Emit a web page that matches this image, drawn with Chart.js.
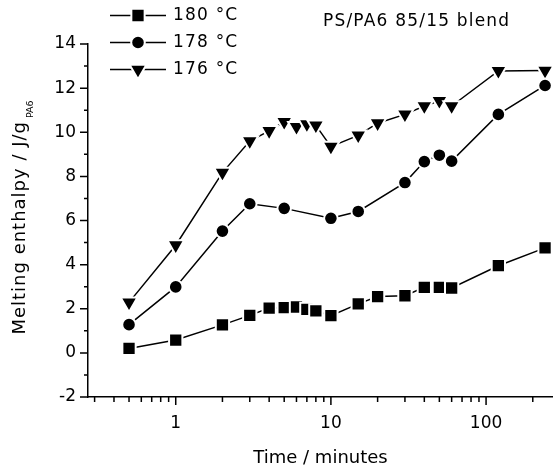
<!DOCTYPE html>
<html>
<head>
<meta charset="utf-8">
<script src="https://cdn.jsdelivr.net/npm/chart.js@4.4.0/dist/chart.umd.min.js"></script>
<style>
    html, body { margin: 0; padding: 0; background: #fff; }
    #wrap { width: 553px; height: 468px; }
</style>
</head>
<body>
<div id="wrap"><canvas id="chart" width="553" height="468"></canvas></div>
<script>
// data (time in minutes, enthalpy in J/g PA6)
const times180 = [0.5, 1, 2, 3, 4, 5, 6, 7, 8, 10, 15, 20, 30, 40, 50, 60, 120, 240];
const enthalpy180 = [0.2, 0.58, 1.27, 1.7, 2.03, 2.05, 2.08, 1.97, 1.9, 1.69, 2.22, 2.55, 2.59, 2.97, 2.97, 2.94, 3.95, 4.76];

const times178 = [0.5, 1, 2, 3, 5, 10, 15, 30, 40, 50, 60, 120, 240];
const enthalpy178 = [1.28, 2.99, 5.52, 6.76, 6.55, 6.1, 6.41, 7.72, 8.67, 8.96, 8.69, 10.81, 12.12];

const times176 = [0.5, 1, 2, 3, 4, 5, 6, 7, 8, 10, 15, 20, 30, 40, 50, 60, 120, 240];
const enthalpy176 = [2.29, 4.88, 8.17, 9.6, 10.06, 10.47, 10.25, 10.37, 10.31, 9.35, 9.86, 10.41, 10.81, 11.19, 11.42, 11.19, 12.78, 12.8];

const seriesLabels = ['180 °C', '178 °C', '176 °C'];
const chartTitle = 'PS/PA6 85/15 blend';

const xTickValues = [0.3, 0.4, 0.5, 0.6, 0.7, 0.8, 0.9, 1, 2, 3, 4, 5, 6, 7, 8, 9, 10,
    20, 30, 40, 50, 60, 70, 80, 90, 100, 200];
const xLabelValues = [1, 10, 100];
const yTickValues = [-2, -1, 0, 1, 2, 3, 4, 5, 6, 7, 8, 9, 10, 11, 12, 13, 14];
const yLabelValues = [-2, 0, 2, 4, 6, 8, 10, 12, 14];

const FONT = "'DejaVu Sans', sans-serif";

function toPoints(xs, ys) {
    return xs.map((x, i) => ({ x: x, y: ys[i] }));
}

function series(label, xs, ys, style, radius, rotation) {
    return {
        label: label,
        data: toPoints(xs, ys),
        borderColor: '#000',
        borderWidth: 1.5,
        backgroundColor: '#000',
        pointStyle: style,
        pointRadius: radius,
        pointRotation: rotation,
        pointBackgroundColor: '#000',
        pointBorderColor: '#fff',
        pointBorderWidth: 2,
        tension: 0
    };
}

// outward ticks, long on labelled values and short otherwise
const axisTicks = {
    id: 'axisTicks',
    afterDraw(chart) {
        const { ctx, chartArea, scales: { x, y } } = chart;
        ctx.save();
        ctx.strokeStyle = '#000';
        ctx.lineWidth = 1.5;
        ctx.beginPath();
        xTickValues.forEach(v => {
            const px = x.getPixelForValue(v);
            const len = xLabelValues.includes(v) ? 8 : 5;
            ctx.moveTo(px, chartArea.bottom);
            ctx.lineTo(px, chartArea.bottom + len);
        });
        yTickValues.forEach(v => {
            const py = y.getPixelForValue(v);
            const len = yLabelValues.includes(v) ? 8 : 4;
            ctx.moveTo(chartArea.left, py);
            ctx.lineTo(chartArea.left - len, py);
        });
        ctx.stroke();
        ctx.restore();
    }
};

// legend, title and y-axis title with its subscript
const annotations = {
    id: 'annotations',
    afterDraw(chart) {
        const ctx = chart.ctx;
        ctx.save();
        ctx.fillStyle = '#000';

        ctx.font = '17px ' + FONT;
        ctx.letterSpacing = '1.2px';
        ctx.textBaseline = 'middle';
        ctx.textAlign = 'left';
        ctx.fillText(chartTitle, 323, 21.5);

        const rows = [15.5, 42.5, 69.5];
        chart.data.datasets.forEach((ds, i) => {
            const yy = rows[i];
            ctx.strokeStyle = '#000';
            ctx.lineWidth = 1.5;
            ctx.beginPath();
            ctx.moveTo(110, yy);
            ctx.lineTo(166, yy);
            ctx.stroke();
            ctx.fillStyle = '#000';
            ctx.strokeStyle = '#fff';
            ctx.lineWidth = 2;
            Chart.helpers.drawPoint(ctx, {
                pointStyle: ds.pointStyle,
                radius: ds.pointRadius,
                rotation: ds.pointRotation,
                borderWidth: 2
            }, 138, yy);
            ctx.fillStyle = '#000';
            ctx.fillText(ds.label, 173, yy + 0.5);
        });

        const main = 'Melting enthalpy / J/g';
        ctx.font = '18px ' + FONT;
        ctx.letterSpacing = '1px';
        const w = ctx.measureText(main).width;
        ctx.translate(25, 121 + w);
        ctx.rotate(-Math.PI / 2);
        ctx.textBaseline = 'alphabetic';
        ctx.fillText(main, 0, 0);
        ctx.font = '9.5px ' + FONT;
        ctx.letterSpacing = '0px';
        ctx.fillText('PA6', w + 3, 8);
        ctx.restore();
    }
};

Chart.defaults.font.family = FONT;
Chart.defaults.font.size = 17;
Chart.defaults.color = '#000';

new Chart(document.getElementById('chart'), {
    type: 'line',
    data: {
        datasets: [
            series(seriesLabels[0], times180, enthalpy180, 'rect', 9.4, 0),
            series(seriesLabels[1], times178, enthalpy178, 'circle', 6.8, 0),
            series(seriesLabels[2], times176, enthalpy176, 'triangle', 9.7, 180)
        ]
    },
    options: {
        responsive: false,
        animation: false,
        devicePixelRatio: 1,
        layout: { autoPadding: false, padding: { top: 44, right: 0, bottom: 0, left: 0 } },
        plugins: {
            legend: { display: false },
            tooltip: { enabled: false }
        },
        scales: {
            x: {
                type: 'logarithmic',
                min: 0.272,
                max: 270,
                afterBuildTicks: s => { s.ticks = xTickValues.map(v => ({ value: v })); },
                afterFit: s => { s.height = 71; s.paddingLeft = 0; s.paddingRight = 0; },
                grid: { display: false, drawTicks: true, tickLength: 8 },
                border: { display: true, color: '#000', width: 1.5 },
                ticks: {
                    autoSkip: false,
                    maxRotation: 0,
                    padding: 8,
                    color: '#000',
                    callback: v => xLabelValues.includes(v) ? String(v) : ''
                },
                title: {
                    display: true,
                    text: 'Time / minutes',
                    color: '#000',
                    font: { size: 18, lineHeight: 1.1 },
                    padding: { top: 0, bottom: 0 }
                }
            },
            y: {
                min: -2,
                max: 14,
                afterBuildTicks: s => { s.ticks = yTickValues.map(v => ({ value: v })); },
                afterFit: s => { s.width = 88; s.paddingTop = 0; s.paddingBottom = 0; },
                grid: { display: false, drawTicks: true, tickLength: 8 },
                border: { display: true, color: '#000', width: 1.5 },
                ticks: {
                    autoSkip: false,
                    padding: 4,
                    color: '#000',
                    callback: v => yLabelValues.includes(v) ? String(v) : ''
                }
            }
        }
    },
    plugins: [axisTicks, annotations]
});
</script>
</body>
</html>
